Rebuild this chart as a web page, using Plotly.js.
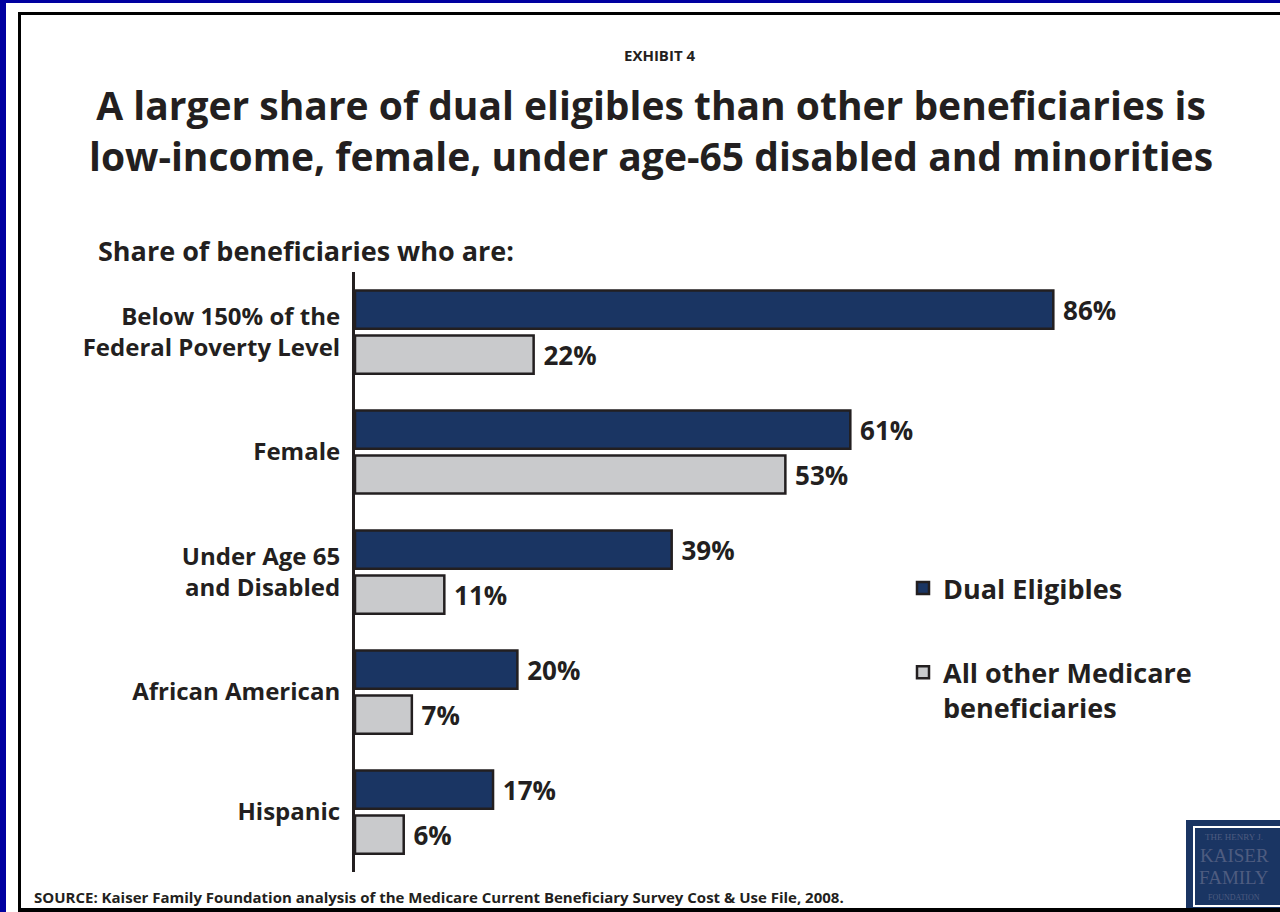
<!DOCTYPE html>
<html>
<head>
<meta charset="utf-8">
<script src="https://cdn.plot.ly/plotly-3.0.1.min.js"></script>
<style>
  html, body { margin:0; padding:0; background:#ffffff; }
  #wrap { position:relative; width:1280px; height:912px; overflow:hidden; }
  #chart { position:absolute; left:0; top:0; width:1280px; height:912px; }
  .deco { position:absolute; pointer-events:none; }
</style>
</head>
<body>
<div id="wrap">
  <div id="chart"></div>
  <div class="deco" style="left:0;top:0;width:1280px;height:3px;background:#0000a0;"></div>
  <div class="deco" style="left:0;top:0;width:6px;height:912px;background:#0000a0;"></div>
  <div class="deco" style="left:18px;top:12px;width:1262px;height:3px;background:#000;"></div>
  <div class="deco" style="left:18px;top:12px;width:3px;height:900px;background:#000;"></div>
  <div class="deco" style="left:18px;top:908px;width:1262px;height:4px;background:#000;"></div>
</div>
<script>
// ---- data ----
const categories = [
  "Below 150% of the<br>Federal Poverty Level",
  "Female",
  "Under Age 65<br>and Disabled",
  "African American",
  "Hispanic"
];
const dualEligibles = [86, 61, 39, 20, 17];
const otherBeneficiaries = [22, 53, 11, 7, 6];
const seriesNames = ["Dual Eligibles", "All other Medicare<br>beneficiaries"];
const titleText = "A larger share of dual eligibles than other beneficiaries is<br>low-income, female, under age-65 disabled and minorities";

const FONT = "'Open Sans', Lato, sans-serif";
const TXT = "#231f20";
const px = v => (v - 355) / 812;      // page x -> paper x
const py = v => (872 - v) / 600;      // page y -> paper y

const traces = [
  {
    type: "bar", orientation: "h",
    name: seriesNames[0], legendgroup: "a",
    y: categories, x: dualEligibles,
    marker: { color: "#1a3563", line: { color: "#231f20", width: 2.5 } },
    texttemplate: "\u00a0%{x}%", textposition: "outside", cliponaxis: false,
    textfont: { family: FONT, size: 26, color: TXT, weight: "bold" },
    hoverinfo: "skip"
  },
  {
    type: "bar", orientation: "h",
    name: seriesNames[1], legendgroup: "b",
    y: categories, x: otherBeneficiaries,
    marker: { color: "#c9cacc", line: { color: "#231f20", width: 2.5 } },
    texttemplate: "\u00a0%{x}%", textposition: "outside", cliponaxis: false,
    textfont: { family: FONT, size: 26, color: TXT, weight: "bold" },
    hoverinfo: "skip"
  }
];

const layout = {
  width: 1280, height: 912,
  paper_bgcolor: "rgba(0,0,0,0)", plot_bgcolor: "rgba(0,0,0,0)",
  margin: { l: 355, r: 113, t: 272, b: 40, pad: 0 },
  font: { family: FONT, color: TXT },
  barmode: "group", bargap: 0.25, bargroupgap: 0.15,
  title: {
    text: titleText,
    x: 651 / 1280, xanchor: "center", xref: "container",
    y: 1 - 120 / 912, yanchor: "middle", yref: "container",
    font: { family: FONT, size: 39, color: TXT, weight: "bold" }
  },
  xaxis: { visible: false, range: [0, 100], fixedrange: true },
  yaxis: {
    autorange: "reversed", showline: true, linecolor: "#231f20", linewidth: 3,
    showgrid: false, zeroline: false, ticks: "", ticklabelstandoff: 7,
    tickfont: { family: FONT, size: 24, color: TXT, weight: "bold" }
  },
  showlegend: true,
  legend: {
    x: px(903), xanchor: "left", y: py(564), yanchor: "top",
    traceorder: "grouped", tracegroupgap: 46, valign: "top",
    font: { family: FONT, size: 27, color: TXT, weight: "bold" },
    bgcolor: "rgba(0,0,0,0)"
  },
  shapes: [
    { type: "rect", xref: "paper", yref: "paper",
      x0: px(1186), x1: px(1284), y0: py(909), y1: py(820),
      fillcolor: "#1a3563", line: { width: 0 }, layer: "above" },
    { type: "rect", xref: "paper", yref: "paper",
      x0: px(1194), x1: px(1290), y0: py(906), y1: py(827),
      fillcolor: "rgba(0,0,0,0)", line: { width: 2, color: "#ffffff" }, layer: "above" }
  ],
  annotations: [
    { text: "EXHIBIT 4", xref: "paper", yref: "paper",
      x: px(659), y: py(55), xanchor: "center", yanchor: "middle",
      showarrow: false, font: { family: FONT, size: 15, color: TXT, weight: "bold" } },
    { text: "Share of beneficiaries who are:", xref: "paper", yref: "paper",
      x: px(96), y: py(250), xanchor: "left", yanchor: "middle",
      showarrow: false, font: { family: FONT, size: 27, color: TXT, weight: "bold" } },
    { text: "SOURCE: Kaiser Family Foundation analysis of the Medicare Current Beneficiary Survey Cost & Use File, 2008.",
      xref: "paper", yref: "paper",
      x: px(32), y: py(897), xanchor: "left", yanchor: "middle",
      showarrow: false, font: { family: FONT, size: 15, color: TXT, weight: "bold" } },
    { text: "THE HENRY J.", xref: "paper", yref: "paper", x: px(1234), y: py(837),
      xanchor: "center", yanchor: "middle", showarrow: false,
      font: { family: "'Liberation Serif', serif", size: 9, color: "#4e5c80" } },
    { text: "KAISER", xref: "paper", yref: "paper", x: px(1234), y: py(855),
      xanchor: "center", yanchor: "middle", showarrow: false,
      font: { family: "'Liberation Serif', serif", size: 19, color: "#4e5c80" } },
    { text: "FAMILY", xref: "paper", yref: "paper", x: px(1234), y: py(877),
      xanchor: "center", yanchor: "middle", showarrow: false,
      font: { family: "'Liberation Serif', serif", size: 19, color: "#4e5c80" } },
    { text: "FOUNDATION", xref: "paper", yref: "paper", x: px(1234), y: py(897),
      xanchor: "center", yanchor: "middle", showarrow: false,
      font: { family: "'Liberation Serif', serif", size: 8, color: "#4e5c80" } }
  ]
};

Plotly.newPlot("chart", traces, layout, { displayModeBar: false, staticPlot: true });
</script>
</body>
</html>
